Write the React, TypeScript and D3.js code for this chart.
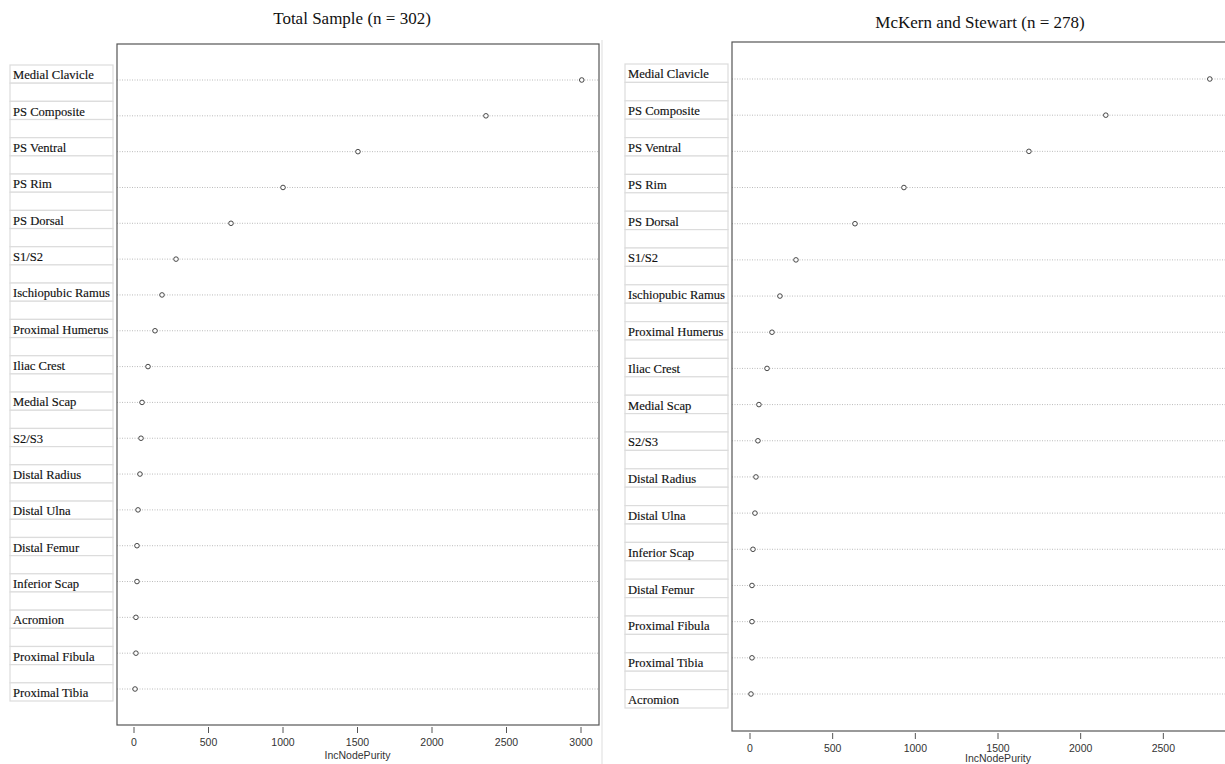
import * as d3 from "d3"

const totalLabels = ["Medial Clavicle", "PS Composite", "PS Ventral", "PS Rim", "PS Dorsal", "S1/S2", "Ischiopubic Ramus", "Proximal Humerus", "Iliac Crest", "Medial Scap", "S2/S3", "Distal Radius", "Distal Ulna", "Distal Femur", "Inferior Scap", "Acromion", "Proximal Fibula", "Proximal Tibia"]
const totalValues = [3005, 2362, 1503, 1000, 651, 282, 188, 141, 94, 54, 47, 40, 27, 20, 20, 13, 13, 7]

const mkLabels = ["Medial Clavicle", "PS Composite", "PS Ventral", "PS Rim", "PS Dorsal", "S1/S2", "Ischiopubic Ramus", "Proximal Humerus", "Iliac Crest", "Medial Scap", "S2/S3", "Distal Radius", "Distal Ulna", "Inferior Scap", "Distal Femur", "Proximal Fibula", "Proximal Tibia", "Acromion"]
const mkValues = [2781, 2152, 1687, 931, 635, 278, 181, 133, 103, 54, 48, 36, 30, 18, 12, 12, 12, 6]

const xTicks = [0, 500, 1000, 1500, 2000, 2500, 3000]
const xLabel = "IncNodePurity"

interface Geo {
    box: [number, number, number, number]; // x0, y0, x1, y1
    xr: [number, number]; // pixel of 0 and 3000
    rows: [number, number];
    table: [number, number, number, number]; // x0, y0, x1, y1
    title: [number, number];
    labelDy: number;
}

interface PanelProps {
    title: string;
    labels: string[];
    values: number[];
    g: Geo;
}

const Panel = ({ title, labels, values, g }: PanelProps) => {
    const [bx0, by0, bx1, by1] = g.box
    const x = d3.scaleLinear().domain([0, 3000]).range(g.xr)
    const y = d3.scalePoint<string>().domain(labels).range(g.rows)
    const cells = d3.range(labels.length * 2 - 1)
    const cellY = d3.scaleBand<number>().domain(cells).range([g.table[1], g.table[3]])
    const [tx0, , tx1] = g.table
    // only ticks that fall on the page
    const ticks = xTicks.filter((t) => x(t) < 1225 - 10)
    return (
        <g>
            <text x={g.title[0]} y={g.title[1]} textAnchor="middle" fontFamily="Liberation Serif" fontSize={17} fill="#111">{title}</text>
            {cells.map((c) => (
                <rect key={c} x={tx0} y={cellY(c)} width={tx1 - tx0} height={cellY.bandwidth()} fill="white" stroke="#dcdcdc" strokeWidth={1.2} />
            ))}
            {labels.map((l, i) => (
                <text key={l} x={tx0 + 3} y={(cellY(i * 2) ?? 0) + cellY.bandwidth() - 4} fontFamily="Liberation Serif" fontSize={12.6} fill="#111" stroke="#111" strokeWidth={0.15}>{l}</text>
            ))}
            {labels.map((l) => (
                <line key={l} x1={bx0} x2={bx1} y1={y(l)} y2={y(l)} stroke="#aaa" strokeWidth={0.8} strokeDasharray="1,1.5" />
            ))}
            {labels.map((l, i) => (
                <circle key={l} cx={x(values[i])} cy={y(l)} r={2.3} fill="white" stroke="#333" strokeWidth={0.9} />
            ))}
            <rect x={bx0} y={by0} width={bx1 - bx0} height={by1 - by0} fill="none" stroke="#555" strokeWidth={1.2} />
            {ticks.map((t) => (
                <g key={t} transform={`translate(${x(t)},${by1})`}>
                    <line y1={2} y2={8} stroke="#555" />
                    <text y={21} textAnchor="middle" fontFamily="Liberation Sans" fontSize={10.5} fill="#333">{t}</text>
                </g>
            ))}
            <text x={(x(0) + x(3000)) / 2} y={by1 + g.labelDy} textAnchor="middle" fontFamily="Liberation Sans" fontSize={10.5} fill="#333">{xLabel}</text>
        </g>
    )
}

const leftGeo: Geo = { box: [117, 44, 599, 725], xr: [134, 581], rows: [80, 689], table: [10, 65, 113, 701], title: [352, 24], labelDy: 34 }
const rightGeo: Geo = { box: [732, 42, 1245, 731], xr: [750, 1246], rows: [79, 694], table: [625, 64, 728, 708], title: [980, 28], labelDy: 31 }

export default function App() {
    return (
        <svg width={1225} height={764} style={{ position: "fixed", left: 0, top: 0, background: "white" }}>
            <rect width={1225} height={764} fill="white" />
            <line x1={602} x2={602} y1={40} y2={764} stroke="#ddd" />
            <Panel title="Total Sample (n = 302)" labels={totalLabels} values={totalValues} g={leftGeo} />
            <Panel title="McKern and Stewart (n = 278)" labels={mkLabels} values={mkValues} g={rightGeo} />
        </svg>
    )
}
